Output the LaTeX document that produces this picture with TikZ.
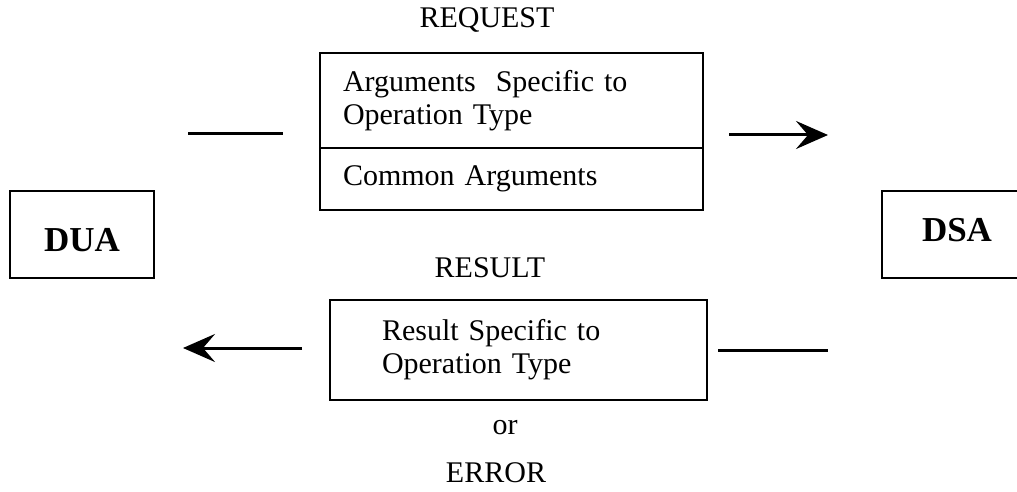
\documentclass[tikz,border=0pt]{standalone}
\usepackage{fontspec}
\setmainfont{Liberation Serif}
\usetikzlibrary{arrows.meta}

\begin{document}
\begin{tikzpicture}[
x=0.5pt,
y=-0.5pt,
line width=1.2pt,
every node/.style={font=\fontsize{15}{16.5}\selectfont},
argbox/.style={rectangle, draw, outer sep=0pt, align=left, anchor=north west},
agentbox/.style={rectangle, draw, minimum height=43.5pt, font=\fontsize{17.5}{20}\selectfont\bfseries},
msgline/.style={line width=1.5pt},
msgarrow/.style={line width=1.5pt, -{Stealth[length=16pt, width=14pt, inset=6pt]}},
]
\useasboundingbox (0,0) rectangle (1017,492);
% request
\node (request) at (487,20) {REQUEST};
\node[argbox, inner xsep=11.5pt, text width=168.5pt, minimum height=47.5pt] (specific) at (320,53) {Arguments\ \ Specific to\\Operation Type};
\node[argbox, inner xsep=11.5pt, text width=168.5pt, minimum height=31pt] (common) at (specific.south west) {Common Arguments};
\coordinate (reqtail) at (188,134);
\coordinate (reqgap) at (283,134);
\draw[msgline] (reqtail) -- (reqgap);
\coordinate (reqfrom) at (729,135);
\coordinate (reqto) at (828,135);
\draw[msgarrow] (reqfrom) -- (reqto);
% the two agents
\node[agentbox, minimum width=72pt, text height=17pt] (dua) at (82,234.5) {DUA};
\node[agentbox, minimum width=75pt, text depth=4.5pt] (dsa) at (957,234.5) {DSA};
% result
\node (result) at (490,268) {RESULT};
\node[argbox, inner xsep=26pt, text width=136.5pt, minimum height=50pt] (resspecific) at (330,300) {Result Specific to\\Operation Type};
\coordinate (resfrom) at (302,348);
\coordinate (resto) at (183,348);
\draw[msgarrow] (resfrom) -- (resto);
\coordinate (restail) at (718,350);
\coordinate (resgap) at (828,350);
\draw[msgline] (restail) -- (resgap);
\node (or) at (505,428) {or};
\node (error) at (496,473) {ERROR};
\end{tikzpicture}
\end{document}
